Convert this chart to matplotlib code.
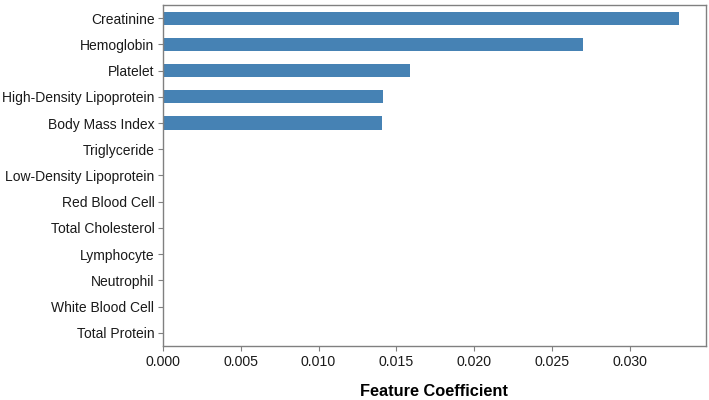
import matplotlib
matplotlib.use("Agg")
import matplotlib.pyplot as plt

features = ["Creatinine", "Hemoglobin", "Platelet", "High-Density Lipoprotein",
            "Body Mass Index", "Triglyceride", "Low-Density Lipoprotein",
            "Red Blood Cell", "Total Cholesterol", "Lymphocyte", "Neutrophil",
            "White Blood Cell", "Total Protein"]
coefficients = [0.03312, 0.02699, 0.01588, 0.01412, 0.01405, 0.0, 0.0,
                0.0, 0.0, 0.0, 0.0, 0.0, 0.0]
x_ticks = [0.000, 0.005, 0.010, 0.015, 0.020, 0.025, 0.030]

plt.rcParams['font.family'] = ['Liberation Sans', 'DejaVu Sans']

fig = plt.figure(figsize=(7.09, 4.0), dpi=100)
ax = fig.add_axes([0.2295, 0.135, 0.7663, 0.8525])

pos = list(range(len(features)))[::-1]
ax.barh(pos, coefficients, height=0.5, color='#4682b4')
ax.set_ylim(-0.5, len(features) - 0.5)
ax.set_xlim(0, max(coefficients) * 1.053)
ax.set_yticks(pos)
ax.set_yticklabels(features, fontsize=10, color='#1a1a1a')
ax.set_xticks(x_ticks)
ax.set_xticklabels([f"{t:.3f}" for t in x_ticks], fontsize=10.2, color='#1a1a1a')

for s in ax.spines.values():
    s.set_color('#808080')
    s.set_linewidth(1.0)
ax.tick_params(axis='both', colors='#808080', length=3.5, width=0.8, labelcolor='#1a1a1a', pad=3)
ax.tick_params(axis='y', pad=2.5)

ax.set_xlabel("Feature Coefficient", fontsize=11.8, fontweight='bold', labelpad=11)

fig.savefig("out.png", dpi=100)
